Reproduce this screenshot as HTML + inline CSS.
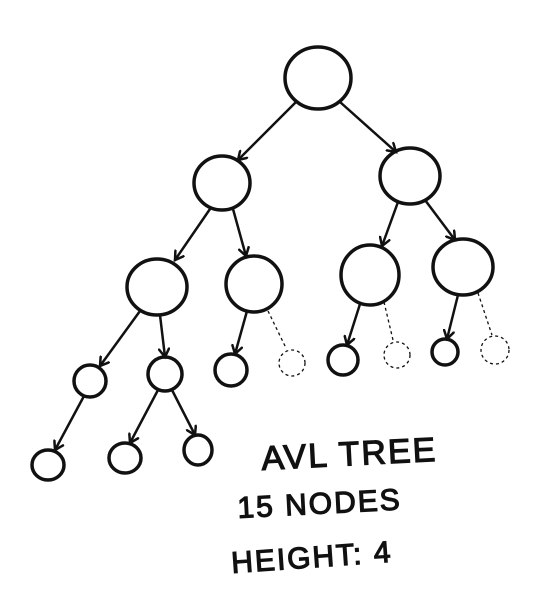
<!DOCTYPE html>
<html><head><style>
html,body{margin:0;padding:0;background:#fff;}
svg{display:block;}
text{font-family:"Liberation Sans",sans-serif;font-weight:normal;fill:#111;stroke:#111;stroke-width:1.2;letter-spacing:2px;}
</style></head><body>
<svg width="541" height="599" viewBox="0 0 541 599" xmlns="http://www.w3.org/2000/svg">
<defs>
<marker id="a" markerWidth="12" markerHeight="12" refX="9" refY="6" orient="auto" markerUnits="userSpaceOnUse">
<path d="M1,1 L9,6 L1,11" fill="none" stroke="#111" stroke-width="2.5" stroke-linecap="round"/>
</marker>
</defs>
<g fill="none" stroke="#111" stroke-width="3.5">
<ellipse cx="318" cy="78" rx="33" ry="31"/>
<ellipse cx="222" cy="183" rx="28" ry="27"/>
<ellipse cx="410" cy="176" rx="30" ry="28"/>
<ellipse cx="157" cy="287" rx="30" ry="28"/>
<ellipse cx="254" cy="284" rx="28" ry="28"/>
<ellipse cx="370" cy="275" rx="29" ry="30"/>
<ellipse cx="463" cy="267" rx="30" ry="28"/>
<ellipse cx="90" cy="381" rx="16" ry="16"/>
<ellipse cx="165" cy="374" rx="17" ry="17"/>
<ellipse cx="231" cy="370" rx="16" ry="16"/>
<ellipse cx="343" cy="360" rx="15" ry="15"/>
<ellipse cx="445" cy="352" rx="13" ry="13"/>
<ellipse cx="48" cy="465" rx="16" ry="15"/>
<ellipse cx="125" cy="458" rx="16" ry="15"/>
<ellipse cx="198" cy="450" rx="14" ry="15"/>
</g>
<g fill="none" stroke="#111" stroke-width="1.3" stroke-dasharray="3,3">
<circle cx="292" cy="363" r="13"/>
<circle cx="397" cy="355" r="13"/>
<circle cx="495" cy="350" r="14"/>
<line x1="268" y1="311" x2="286" y2="348"/>
<line x1="384" y1="302" x2="393" y2="340"/>
<line x1="478" y1="293" x2="492" y2="335"/>
</g>
<g fill="none" stroke="#111" stroke-width="2.5" stroke-linecap="round" marker-end="url(#a)">
<line x1="296" y1="102" x2="238" y2="160"/>
<line x1="340" y1="102" x2="396" y2="152"/>
<line x1="210" y1="209" x2="175" y2="260"/>
<line x1="233" y1="209" x2="246" y2="256"/>
<line x1="398" y1="202" x2="382" y2="246"/>
<line x1="425" y1="200" x2="455" y2="240"/>
<line x1="140" y1="311" x2="100" y2="366"/>
<line x1="160" y1="315" x2="165" y2="357"/>
<line x1="247" y1="311" x2="235" y2="354"/>
<line x1="360" y1="304" x2="347" y2="345"/>
<line x1="458" y1="295" x2="447" y2="339"/>
<line x1="84" y1="396" x2="55" y2="450"/>
<line x1="158" y1="390" x2="130" y2="443"/>
<line x1="172" y1="390" x2="195" y2="435"/>
</g>
<text x="262" y="470" font-size="34" transform="rotate(-3 262 470)">AVL TREE</text>
<text x="238" y="518" font-size="30" transform="rotate(-3 238 518)">15 NODES</text>
<text x="232" y="573" font-size="30" transform="rotate(-4 232 573)">HEIGHT: 4</text>
</svg>
</body></html>
